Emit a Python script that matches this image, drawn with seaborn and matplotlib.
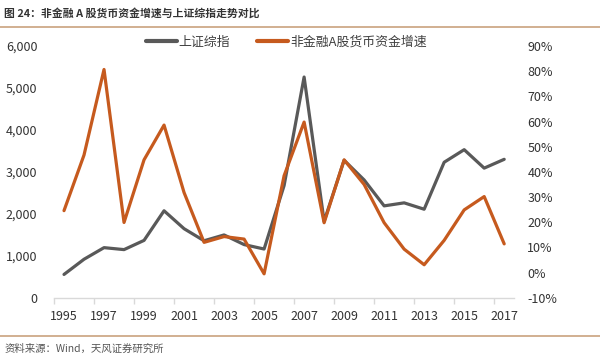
import matplotlib
matplotlib.use("Agg")
import matplotlib.pyplot as plt
from matplotlib.lines import Line2D
from matplotlib.ticker import FuncFormatter, FixedLocator
import numpy as np
import pandas as pd
import seaborn as sns

# data
years = list(range(1995, 2018))
szzs = [555, 917, 1194, 1147, 1367, 2073, 1646, 1358, 1497, 1267, 1161, 2675,
        5262, 1821, 3277, 2808, 2190, 2262, 2110, 3230, 3530, 3090, 3300]
cash_growth = [24.6, 46.7, 80.7, 19.9, 44.8, 58.6, 31.8, 12.0, 14.3, 13.3, -0.5, 38.5,
               59.8, 19.8, 44.8, 35.0, 19.8, 9.3, 3.1, 12.8, 24.9, 30.2, 11.4]
left_ticks = [0, 1000, 2000, 3000, 4000, 5000, 6000]
right_ticks = [-10, 0, 10, 20, 30, 40, 50, 60, 70, 80, 90]
year_labels = years[::2]

name_idx = "上证综指"
name_cash = "非金融A股货币资金增速"
title = "图 24：非金融 A 股货币资金增速与上证综指走势对比"
source = "资料来源：Wind，天风证券研究所"

df = pd.DataFrame({"year": years, "szzs": szzs, "cash": cash_growth})

sns.set_theme(style="white")
plt.rcParams["font.family"] = ["Noto Sans CJK SC", "DejaVu Sans"]

GRAY = "#595959"
ORANGE = "#c65a1e"
TXT = "#333333"
RULE = "#c9a27e"
AXIS = "#d9d9d9"

fig = plt.figure(figsize=(6, 3.6), dpi=100)
ax = fig.add_axes([0.09, 0.173, 0.767, 0.699])
ax2 = ax.twinx()

sns.lineplot(data=df, x="year", y="szzs", ax=ax, color=GRAY, linewidth=2.3, legend=False)
sns.lineplot(data=df, x="year", y="cash", ax=ax2, color=ORANGE, linewidth=2.3, legend=False)

ax.set_xlim(1994.5, 2017.5)
ax.set_ylim(0, 6000)
ax2.set_ylim(-10, 90)
ax.set_xlabel("")
ax.set_ylabel("")
ax2.set_ylabel("")

ax.set_yticks(left_ticks)
ax.yaxis.set_major_formatter(FuncFormatter(lambda v, p: f"{int(v):,}"))
ax2.set_yticks(right_ticks)
ax2.yaxis.set_major_formatter(FuncFormatter(lambda v, p: f"{int(v)}%"))

ax.set_xticks(year_labels)
ax.set_xticklabels([str(y) for y in year_labels])
ax.xaxis.set_minor_locator(FixedLocator(np.arange(1994.5, 2017, 2)))

ax.tick_params(axis="x", which="major", length=0, pad=9, labelsize=9, labelcolor=TXT)
ax.tick_params(axis="x", which="minor", bottom=True, length=4, width=1, color=AXIS, direction="out")
ax.tick_params(axis="y", length=0, pad=12, labelsize=9, labelcolor=TXT)
ax2.tick_params(axis="y", length=0, pad=9.5, labelsize=9, labelcolor=TXT)

for a in (ax, ax2):
    for s in ("top", "right", "left", "bottom"):
        a.spines[s].set_visible(False)
    a.grid(False)
ax.spines["bottom"].set_visible(True)
ax.spines["bottom"].set_color(AXIS)
ax.spines["bottom"].set_linewidth(1)

handles = [Line2D([], [], color=GRAY, lw=3), Line2D([], [], color=ORANGE, lw=3)]
fig.legend(handles, [name_idx, name_cash], loc="center", bbox_to_anchor=(0.477, 0.883),
           ncol=2, frameon=False, fontsize=9.3, handlelength=2.4, handletextpad=0.15,
           columnspacing=2.1, labelcolor="#404040")

fig.text(0.007, 1 - 13 / 360, title, fontsize=7.8, fontweight="bold", color=TXT, va="center")
fig.add_artist(Line2D([0, 1], [1 - 27 / 360, 1 - 27 / 360], color=RULE, lw=1.2, transform=fig.transFigure))
fig.add_artist(Line2D([0, 1], [1 - 336 / 360, 1 - 336 / 360], color=RULE, lw=1.2, transform=fig.transFigure))
fig.text(0.008, 1 - 349 / 360, source, fontsize=7.5, color="#555555", va="center")

fig.savefig("out.png", dpi=100)
